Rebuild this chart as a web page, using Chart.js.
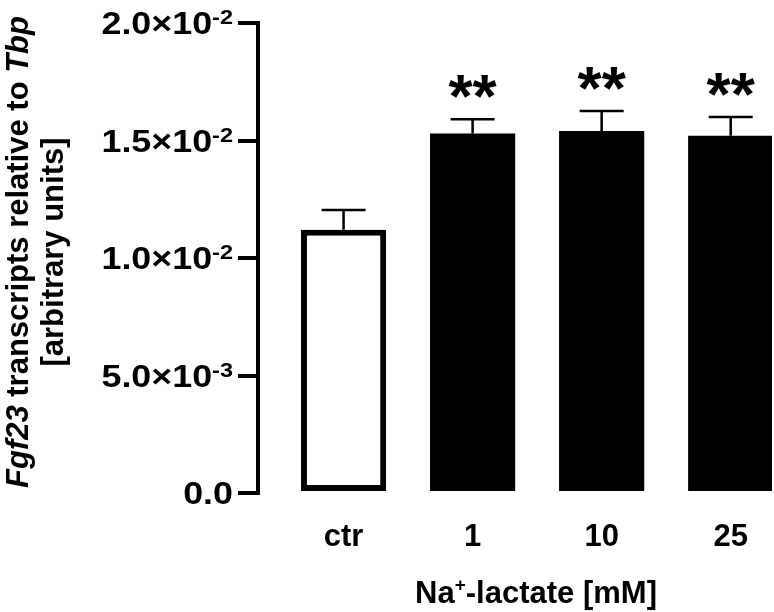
<!DOCTYPE html>
<html>
<head>
<meta charset="utf-8">
<script src="https://cdn.jsdelivr.net/npm/chart.js@4/dist/chart.umd.min.js"></script>
<style>
  body { margin: 0; background: #fff; }
  #wrap { width: 774px; height: 612px; }
</style>
</head>
<body>
<div id="wrap"><canvas id="myChart"></canvas></div>
<script>
// data
let categories = ["ctr", "1", "10", "25"];
let means = [0.0112, 0.0153, 0.0154, 0.0152];
let sems = [0.00084, 0.0006, 0.00086, 0.0008];
let stars = ["", "**", "**", "**"];

// y tick labels (mantissa + exponent)
let yTicks = [0, 0.005, 0.01, 0.015, 0.02];
let yTickMantissa = ["0.0", "5.0×10", "1.0×10", "1.5×10", "2.0×10"];
let yTickExp = ["", "-3", "-2", "-2", "-2"];

const FONT = "'Liberation Sans', Arial, sans-serif";

// draws error bars and asterisks
const errorBars = {
    id: "errorBars",
    afterDatasetsDraw(chart) {
        const ctx = chart.ctx;
        const x = chart.scales.x;
        const y = chart.scales.y;
        ctx.save();
        ctx.strokeStyle = "#000";
        ctx.lineWidth = 2.5;
        for (let i = 0; i < means.length; i++) {
            let cx = x.getPixelForValue(i);
            let top = y.getPixelForValue(means[i]);
            let cap = y.getPixelForValue(means[i] + sems[i]);
            ctx.beginPath();
            ctx.moveTo(cx, top);
            ctx.lineTo(cx, cap);
            ctx.moveTo(cx - 22, cap);
            ctx.lineTo(cx + 22, cap);
            ctx.stroke();
            if (stars[i]) {
                ctx.fillStyle = "#000";
                ctx.font = "bold 62px " + FONT;
                ctx.textAlign = "center";
                ctx.textBaseline = "alphabetic";
                ctx.fillText(stars[i], cx, cap - 2);
            }
        }
        ctx.restore();
    }
};

// y tick labels with superscripts and the axis titles
const textLayer = {
    id: "textLayer",
    afterDraw(chart) {
        const ctx = chart.ctx;
        const y = chart.scales.y;
        ctx.save();
        ctx.fillStyle = "#000";
        ctx.textAlign = "right";
        ctx.textBaseline = "alphabetic";
        let right = 233;
        for (let i = 0; i < yTicks.length; i++) {
            let py = y.getPixelForValue(yTicks[i]);
            ctx.save();
            ctx.translate(right, 0);
            ctx.scale(1.12, 1);
            ctx.font = "bold 21px " + FONT;
            let ew = ctx.measureText(yTickExp[i]).width;
            ctx.fillText(yTickExp[i], 0, py + 1);
            ctx.font = "bold 32px " + FONT;
            ctx.fillText(yTickMantissa[i], -ew, py + 11);
            ctx.restore();
        }

        // y title, two lines, rotated
        ctx.translate(0, 252);
        ctx.rotate(-Math.PI / 2);
        let parts = [["Fgf23", true], [" transcripts relative to ", false], ["Tbp", true]];
        let total = 0;
        parts.forEach(p => {
            ctx.font = (p[1] ? "italic " : "") + "bold 31px " + FONT;
            total += ctx.measureText(p[0]).width;
        });
        let px = -total / 2;
        ctx.textAlign = "left";
        parts.forEach(p => {
            ctx.font = (p[1] ? "italic " : "") + "bold 31px " + FONT;
            ctx.fillText(p[0], px, 28);
            px += ctx.measureText(p[0]).width;
        });
        ctx.font = "bold 31px " + FONT;
        ctx.textAlign = "center";
        ctx.fillText("[arbitrary units]", 0, 63);
        ctx.restore();

        // x title with superscript +
        ctx.save();
        ctx.fillStyle = "#000";
        ctx.textBaseline = "alphabetic";
        ctx.textAlign = "left";
        let a = "Na", b = "+", c = "-lactate [mM]";
        ctx.font = "bold 31px " + FONT;
        let wa = ctx.measureText(a).width, wc = ctx.measureText(c).width;
        ctx.font = "bold 19px " + FONT;
        let wb = ctx.measureText(b).width;
        let sx = 536 - (wa + wb + wc) / 2;
        ctx.font = "bold 31px " + FONT;
        ctx.fillText(a, sx, 603);
        ctx.font = "bold 19px " + FONT;
        ctx.fillText(b, sx + wa, 591);
        ctx.font = "bold 31px " + FONT;
        ctx.fillText(c, sx + wa + wb, 603);
        ctx.restore();
    }
};

const ctx = document.getElementById("myChart").getContext("2d");
const myChart = new Chart(ctx, {
    type: "bar",
    data: {
        datasets: [{
            data: means.map((v, i) => ({ x: i, y: v })),
            backgroundColor: means.map((v, i) => i === 0 ? "#fff" : "#000"),
            borderColor: "#000",
            borderWidth: means.map((v, i) => i === 0 ? 6 : 0),
            borderSkipped: false,
            categoryPercentage: 1,
            barPercentage: 0.66
        }]
    },
    options: {
        responsive: true,
        maintainAspectRatio: false,
        animation: false,
        layout: { padding: { top: 23, right: 2, bottom: 0, left: 0 } },
        plugins: { legend: { display: false }, tooltip: { enabled: false } },
        scales: {
            x: {
                type: "linear",
                offset: false,
                min: -0.663,
                max: 3.32,
                afterBuildTicks: (scale) => { scale.ticks = categories.map((c, i) => ({ value: i })); },
                afterFit: (scale) => { scale.height = 119; scale.paddingLeft = 0; scale.paddingRight = 0; },
                grid: { display: false, drawTicks: false, offset: false },
                border: { display: false },
                ticks: {
                    callback: (v) => categories[v],
                    color: "#000",
                    padding: 26,
                    font: { family: FONT, size: 31, weight: "bold" }
                }
            },
            y: {
                min: 0,
                max: 0.02,
                afterBuildTicks: (scale) => { scale.ticks = yTicks.map(v => ({ value: v })); },
                afterFit: (scale) => { scale.width = 258; },
                grid: { drawOnChartArea: false, drawTicks: true, tickLength: 20, lineWidth: 4, color: "#000" },
                border: { display: true, width: 4, color: "#000" },
                ticks: { display: false }
            }
        }
    },
    plugins: [errorBars, textLayer]
});
</script>
</body>
</html>
